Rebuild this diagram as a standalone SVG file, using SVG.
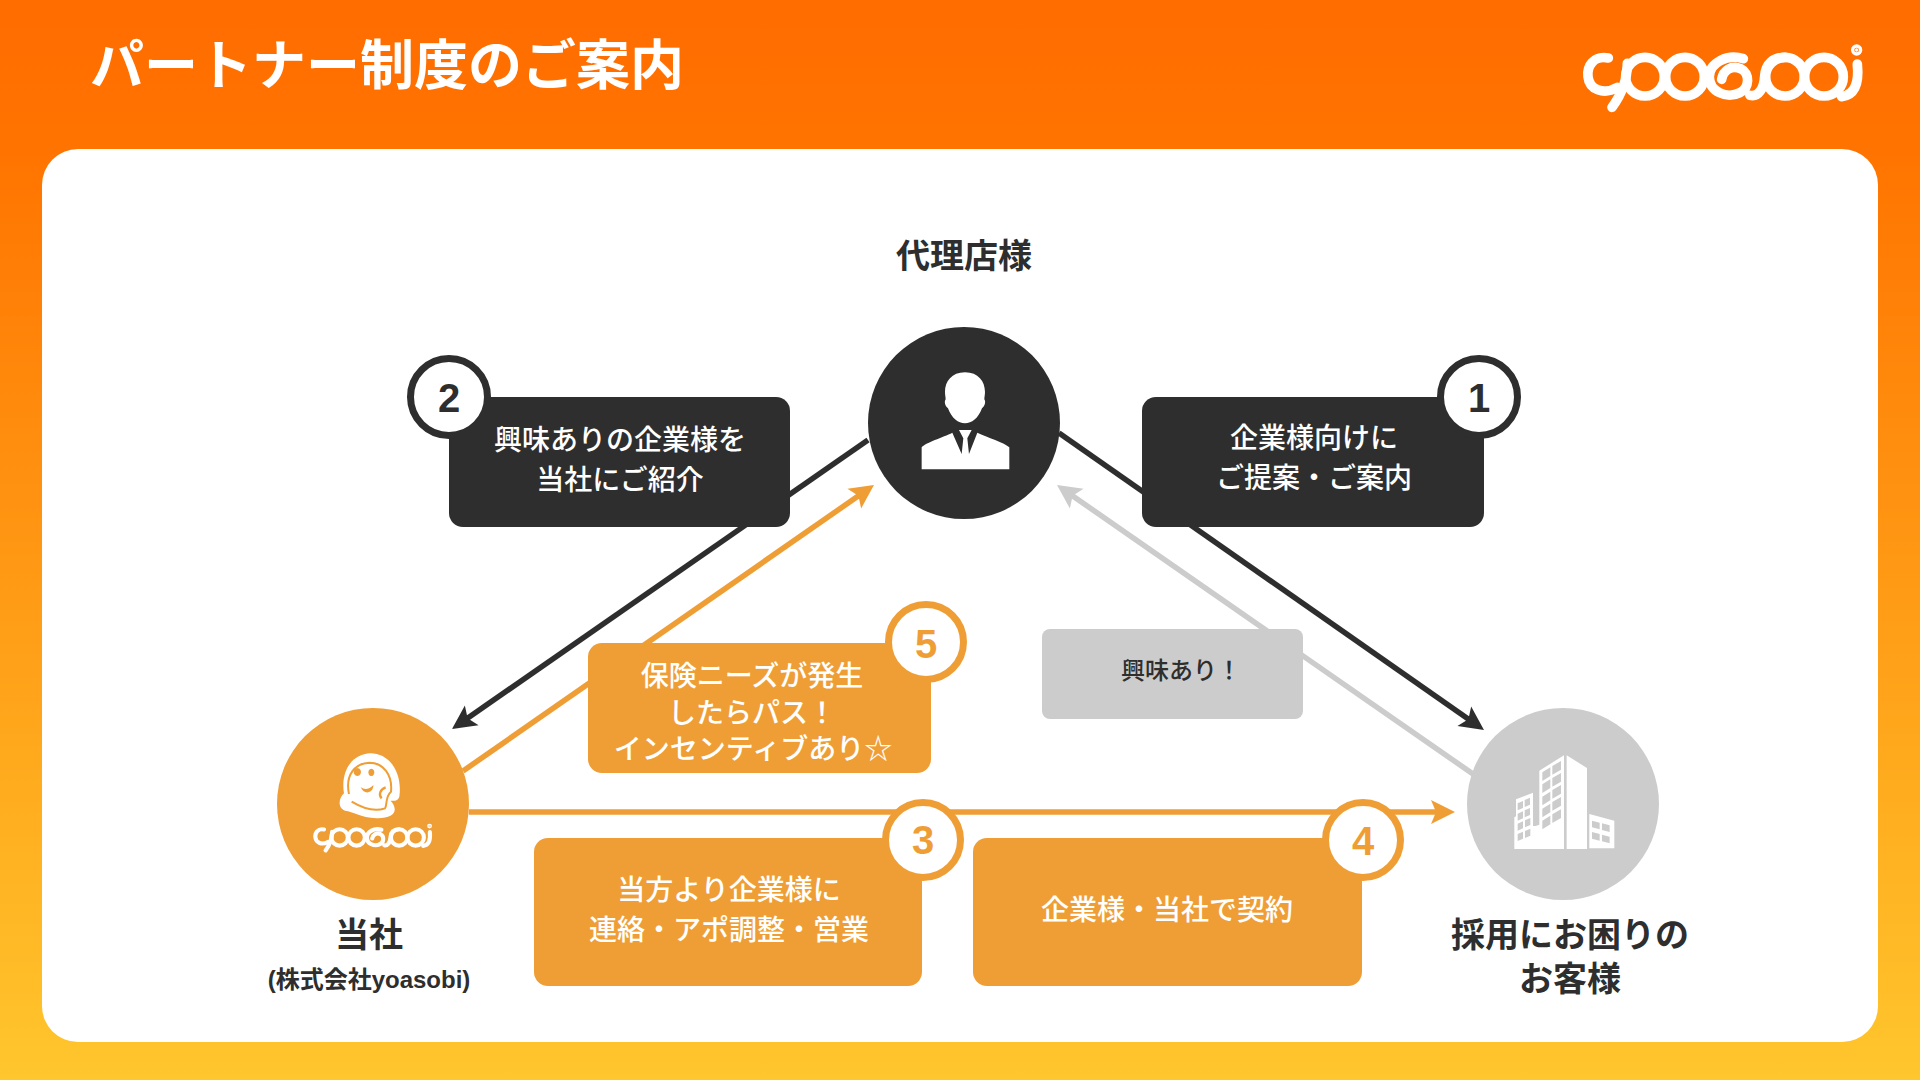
<svg xmlns="http://www.w3.org/2000/svg" xmlns:xlink="http://www.w3.org/1999/xlink" width="1920" height="1080" viewBox="0 0 1920 1080">
<defs>
<linearGradient id="bg" x1="0" y1="0" x2="0" y2="1"><stop offset="0" stop-color="#ff6c00"/><stop offset="0.14" stop-color="#ff7400"/><stop offset="1" stop-color="#ffc62d"/></linearGradient>
<marker id="aD" markerUnits="userSpaceOnUse" viewBox="-12 -13 28 26" markerWidth="28" markerHeight="26" refX="0" refY="0" orient="auto"><path d="M14 0L-10 -12L-5 0L-10 12Z" fill="#2e2e2e"/></marker>
<marker id="aO" markerUnits="userSpaceOnUse" viewBox="-12 -13 28 26" markerWidth="28" markerHeight="26" refX="0" refY="0" orient="auto"><path d="M14 0L-10 -12L-5 0L-10 12Z" fill="#ef9e36"/></marker>
<marker id="aG" markerUnits="userSpaceOnUse" viewBox="-12 -13 28 26" markerWidth="28" markerHeight="26" refX="0" refY="0" orient="auto"><path d="M14 0L-10 -12L-5 0L-10 12Z" fill="#cccccc"/></marker>
<g id="logo" fill="none" stroke="#fff" stroke-width="29" stroke-linecap="round">
<path d="M205 114C160 105 140 140 144 170C148 208 190 226 232 202M262 130C262 190 240 230 216 262"/>
<circle cx="315" cy="170" r="58"/><circle cx="435" cy="170" r="58"/>
<path d="M610 116C560 100 508 130 508 170C508 215 560 238 600 218C628 205 632 160 602 146C575 135 550 150 545 178"/>
<path d="M630 226C655 232 672 205 674 170C676 130 700 112 735 112"/>
<circle cx="735" cy="170" r="58"/>
<circle cx="852" cy="170" r="58"/>
<path d="M952 132C958 190 945 225 905 230"/>
<circle cx="950" cy="90" r="5" fill="#fff" stroke-width="24"/>
</g>
</defs>
<style>
text{font-family:"Noto Sans CJK JP","Liberation Sans",sans-serif;text-anchor:middle}
.lbl{font-size:34px;font-weight:700;fill:#2e2e2e}
.box{font-size:28px;font-weight:500;fill:#fff}
.num{font-family:"Liberation Sans",Arial,sans-serif;font-size:40px;font-weight:700}
.c{fill:none;stroke-width:5.5}
.d{fill:#2e2e2e}.o{fill:#ef9e36}.g{fill:#cccccc}
.nd{fill:#fff;stroke:#2e2e2e;stroke-width:7}
.no{fill:#fff;stroke:#ef9e36;stroke-width:7}
</style>
<rect width="1920" height="1080" fill="url(#bg)"/>
<rect x="42" y="149" width="1836" height="893" rx="36" fill="#fff"/>
<text x="90" y="85" style="text-anchor:start;font-size:54px;font-weight:700" fill="#fff">パートナー制度のご案内</text>
<g id="header-logo" transform="translate(1540 20) scale(.3333)"><use xlink:href="#logo" href="#logo"/></g>

<g id="connectors" class="c">
<line x1="868" y1="440" x2="463.5" y2="721" stroke="#2e2e2e" marker-end="url(#aD)"/>
<line x1="1059" y1="433" x2="1472.5" y2="722" stroke="#2e2e2e" marker-end="url(#aD)"/>
<line x1="463" y1="771" x2="862.5" y2="493" stroke="#ef9e36" marker-end="url(#aO)"/>
<line x1="1473" y1="774" x2="1068.5" y2="493" stroke="#cccccc" marker-end="url(#aG)"/>
<line x1="469" y1="812" x2="1441" y2="812" stroke="#ef9e36" marker-end="url(#aO)"/>
</g>

<g id="node-dairiten">
<text class="lbl" x="964" y="268">代理店様</text>
<circle class="d" cx="964" cy="423" r="96"/>
<g transform="translate(850 320) scale(.3333)" fill="#fff">
<path d="M345 157C385 157 405 185 405 215C405 225 403 232 403 238C408 245 405 258 396 265C385 295 365 310 345 310C325 310 305 295 294 265C285 258 282 245 287 238C287 232 285 225 285 215C285 185 305 157 345 157Z"/>
<path d="M215 448V382C225 368 280 352 307 338L335 402L340 355L327 330H365L352 355L357 402L382 338C410 352 465 368 478 382V448Z"/>
</g>
</g>

<g id="node-touha">
<circle class="o" cx="373" cy="804" r="96"/>
<g transform="translate(270 700) scale(.3333)">
<path fill="#fff" d="M298 160C360 158 398 220 388 290C384 302 375 303 362 302C388 332 372 356 320 355C270 352 250 335 225 332C203 325 205 295 222 280C212 220 240 165 298 160Z"/>
<path fill="none" stroke="#ef9e36" stroke-width="6" d="M237 282C225 225 255 190 298 188C340 188 368 225 363 275C345 290 352 318 345 325C310 338 270 320 245 305"/>
<path fill="#ef9e36" d="M262 228a11 12 0 1 1 .1 0ZM304 228a9 11 0 1 1 .1 0ZM272 262C285 270 298 268 310 255C312 275 285 290 272 262Z"/>
<path fill="none" stroke="#ef9e36" stroke-width="7" d="M347 262C330 268 325 285 335 295"/>
<g transform="translate(75 340) scale(.425)"><use xlink:href="#logo" href="#logo"/></g>
</g>
<text class="lbl" x="369" y="947">当社</text>
<text x="369" y="988" style="font-family:'Liberation Sans','Noto Sans CJK JP',sans-serif;font-size:24px;font-weight:700" fill="#2e2e2e">(<tspan style="font-family:'Noto Sans CJK JP'">株式会社</tspan>yoasobi)</text>
</g>

<g id="node-client">
<circle class="g" cx="1563" cy="804" r="96"/>
<g transform="translate(1460 700) scale(.3333)">
<path fill="#fff" d="M163 447V352L168 349V298L219 278V378L227 378V378L238 374V212L312 166V447ZM320 166L381 204V447H320ZM388 342L463 362V445H388Z"/>
<g fill="#cccccc">
<path d="M173 310l16-7v21l-16 7zM194 300l16-7v21l-16 7zM173 341l16-7v21l-16 7zM194 331l16-7v21l-16 7zM173 371l16-7v21l-16 7zM195 361l16-7v21l-16 7zM173 402l16-7v21l-16 7zM195 393l16-7v21l-16 7z"/>
<path d="M247 217l24-15v26l-24 15zM277 198l26-15v26l-26 15zM247 253l24-15v26l-24 15zM277 234l26-15v26l-26 15zM247 290l24-15v26l-24 15zM277 270l26-15v26l-26 15zM247 326l24-15v26l-24 15zM277 306l26-15v26l-26 15zM247 362l24-15v26l-24 15zM277 343l26-15v26l-26 15z"/>
<path d="M396 362l23 6v20l-23-6zM426 370l23 6v20l-23-6zM396 396l23 6v20l-23-6zM426 404l23 6v20l-23-6z"/>
</g>
</g>
<text class="lbl" x="1570" y="947">採用にお困りの</text>
<text class="lbl" x="1570" y="991">お客様</text>
</g>

<g id="step-2">
<rect class="d" x="449" y="397" width="341" height="130" rx="14"/>
<text class="box" x="620" y="450">興味ありの企業様を</text>
<text class="box" x="620" y="490">当社にご紹介</text>
<circle class="nd" cx="449" cy="397" r="38.5"/>
<text class="num" x="449" y="412" fill="#2e2e2e">2</text>
</g>
<g id="step-1">
<rect class="d" x="1142" y="397" width="342" height="130" rx="14"/>
<text class="box" x="1314" y="448">企業様向けに</text>
<text class="box" x="1314" y="488">ご提案・ご案内</text>
<circle class="nd" cx="1479" cy="397" r="38.5"/>
<text class="num" x="1479" y="412" fill="#2e2e2e">1</text>
</g>
<g id="step-5">
<rect class="o" x="588" y="643" width="343" height="130" rx="14"/>
<text class="box" x="752" y="686">保険ニーズが発生</text>
<text class="box" x="752" y="723">したらパス！</text>
<text class="box" x="753" y="759">インセンティブあり☆</text>
<circle class="no" cx="926" cy="642" r="37.5"/>
<text class="num" x="926" y="658" fill="#ef9e36">5</text>
</g>
<g id="step-3">
<rect class="o" x="534" y="838" width="388" height="148" rx="14"/>
<text class="box" x="729" y="900">当方より企業様に</text>
<text class="box" x="729" y="940">連絡・アポ調整・営業</text>
<circle class="no" cx="923" cy="840" r="37.5"/>
<text class="num" x="923" y="854" fill="#ef9e36">3</text>
</g>
<g id="step-4">
<rect class="o" x="973" y="838" width="389" height="148" rx="14"/>
<text class="box" x="1167" y="920">企業様・当社で契約</text>
<circle class="no" cx="1363" cy="840" r="37.5"/>
<text class="num" x="1363" y="855" fill="#ef9e36">4</text>
</g>
<g id="note-kyomi">
<rect class="g" x="1042" y="629" width="261" height="90" rx="8"/>
<text x="1181" y="679" style="font-size:24px;font-weight:500" fill="#2e2e2e">興味あり！</text>
</g>
</svg>
